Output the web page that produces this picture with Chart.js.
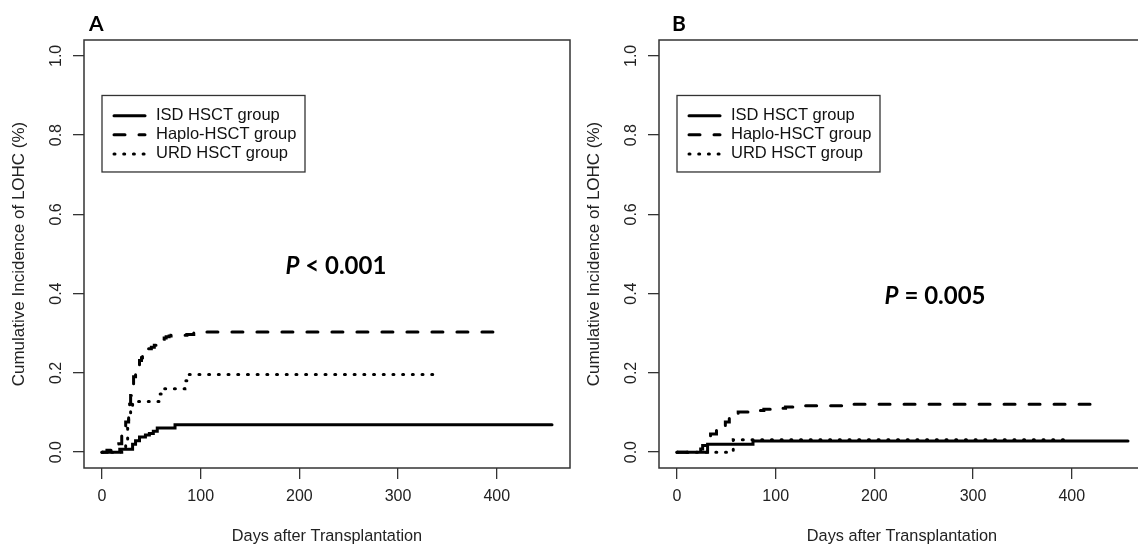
<!DOCTYPE html>
<html>
<head>
<meta charset="utf-8">
<script src="https://cdn.jsdelivr.net/npm/chart.js"></script>
<style>
  html, body { margin: 0; padding: 0; background: #fff; overflow: hidden; }
  body { width: 1138px; height: 545px; position: relative; }
  canvas { position: absolute; top: 0; }
  #chartA { left: 0; }
  #chartB { left: 575px; }
</style>
</head>
<body>
<canvas id="chartA" width="600" height="545"></canvas>
<canvas id="chartB" width="600" height="545"></canvas>
<script>
// axis ticks
const xTicks = [0, 100, 200, 300, 400];
const yTicks = [0, 0.2, 0.4, 0.6, 0.8, 1.0];
const yTickLabels = ['0.0', '0.2', '0.4', '0.6', '0.8', '1.0'];
const groups = ['ISD HSCT group', 'Haplo-HSCT group', 'URD HSCT group'];

// panel A
const isdDaysA = [0, 18, 31, 34, 38, 44, 48, 52, 56, 74, 456];
const isdValsA = [0, 0.007, 0.02, 0.029, 0.038, 0.043, 0.047, 0.053, 0.061, 0.069, 0.069];
const haploDaysA = [0, 5, 12, 17, 20, 23, 24, 27, 28, 29, 31, 32, 34, 35, 37, 38, 40, 41, 43, 44, 47, 50, 53, 56, 59, 61, 63, 65, 68, 70, 86, 93, 100, 407];
const haploValsA = [0, 0.005, 0.01, 0.021, 0.042, 0.06, 0.076, 0.097, 0.121, 0.143, 0.167, 0.19, 0.198, 0.206, 0.218, 0.231, 0.238, 0.244, 0.25, 0.256, 0.261, 0.265, 0.27, 0.278, 0.282, 0.285, 0.288, 0.291, 0.293, 0.295, 0.297, 0.301, 0.303, 0.303];
const urdDaysA = [0, 20, 24, 26, 27, 29, 31, 58, 62, 84, 88, 336];
const urdValsA = [0, 0.01, 0.03, 0.06, 0.09, 0.112, 0.128, 0.147, 0.16, 0.18, 0.196, 0.196];

// panel B
const isdDaysB = [0, 31, 77, 457];
const isdValsB = [0, 0.02, 0.028, 0.028];
const haploDaysB = [0, 24, 26, 30, 34, 40, 45, 49, 53, 57, 62, 80, 88, 100, 110, 130, 175, 420];
const haploValsB = [0, 0.008, 0.017, 0.03, 0.046, 0.055, 0.066, 0.076, 0.086, 0.094, 0.101, 0.105, 0.108, 0.111, 0.114, 0.117, 0.121, 0.121];
const urdDaysB = [0, 57, 399];
const urdValsB = [0, 0.031, 0.031];

const FONT = '"Liberation Sans", Arial, sans-serif';
const dashes = [[], [11, 14], [1, 8.7]];

function pts(days, vals) {
  return days.map((d, i) => ({ x: d, y: vals[i] }));
}

// frame, legend, p-value and panel letter
const overlay = {
  id: 'overlay',
  afterDatasetsDraw(chart, args, o) {
    const { ctx, chartArea: a, scales: { x, y } } = chart;
    ctx.save();
    ctx.strokeStyle = '#333';
    ctx.lineWidth = 1.5;
    ctx.strokeRect(a.left, a.top, a.right - a.left, a.bottom - a.top);

    const lx = x.getPixelForValue(0), ly = y.getPixelForValue(0.9);
    ctx.lineWidth = 1.3;
    ctx.strokeRect(lx, ly, 203, 76.5);
    ctx.font = '16.5px ' + FONT;
    ctx.textBaseline = 'middle';
    ctx.textAlign = 'left';
    chart.data.datasets.forEach((ds, i) => {
      const ry = ly + 20.2 + i * 19.1;
      ctx.strokeStyle = '#000';
      ctx.lineWidth = 3;
      ctx.lineCap = 'round';
      ctx.setLineDash(ds.borderDash);
      ctx.beginPath();
      ctx.moveTo(lx + 12, ry);
      ctx.lineTo(lx + 43, ry);
      ctx.stroke();
      ctx.setLineDash([]);
      ctx.fillStyle = '#111';
      ctx.fillText(ds.label, lx + 54, ry);
    });

    // p-value
    const px = x.getPixelForValue(o.pAt[0]), py = y.getPixelForValue(o.pAt[1]);
    const f1 = 'italic bold 24px Lato, sans-serif', f2 = 'bold 24px Lato, sans-serif';
    ctx.font = f1; const w1 = ctx.measureText('P').width;
    ctx.font = f2; const w2 = ctx.measureText(o.pText).width;
    let sx = px - (w1 + w2) / 2;
    ctx.fillStyle = '#000';
    ctx.font = f1; ctx.fillText('P', sx, py);
    ctx.font = f2; ctx.fillText(o.pText, sx + w1, py);

    // panel letter
    ctx.font = 'bold 21px Lato, sans-serif';
    ctx.fillText(o.letter, o.letterAt[0], o.letterAt[1]);
    ctx.restore();
  }
};

function makeChart(id, series, letter, letterAt, pText, pAt) {
  new Chart(document.getElementById(id), {
    type: 'line',
    data: {
      datasets: series.map((s, i) => ({
        label: groups[i],
        data: pts(s[0], s[1]),
        stepped: true,
        borderColor: '#000',
        borderWidth: 3,
        borderDash: dashes[i],
        borderCapStyle: 'round',
        pointRadius: 0,
        fill: false
      }))
    },
    options: {
      responsive: false,
      animation: false,
      layout: { padding: { top: 40, right: 30, left: 0, bottom: 0 } },
      plugins: {
        legend: { display: false },
        tooltip: { enabled: false },
        overlay: { letter, letterAt, pText, pAt }
      },
      scales: {
        x: {
          type: 'linear',
          min: -18.24,
          max: 474.24,
          afterBuildTicks: s => { s.ticks = xTicks.map(v => ({ value: v })); },
          afterFit: s => { s.height = 77; },
          border: { display: false },
          grid: { drawOnChartArea: false, drawTicks: true, tickLength: 11, color: '#333', lineWidth: 1.3 },
          ticks: { font: { family: FONT, size: 16 }, color: '#222', padding: 8, maxRotation: 0, autoSkip: false },
          title: { display: true, text: 'Days after Transplantation', color: '#222',
                   font: { family: FONT, size: 16.3, lineHeight: 1 }, padding: 0 }
        },
        y: {
          type: 'linear',
          min: -0.04,
          max: 1.04,
          afterBuildTicks: s => { s.ticks = yTicks.map(v => ({ value: v })); },
          afterFit: s => { s.width = 84; },
          border: { display: false },
          grid: { drawOnChartArea: false, drawTicks: true, tickLength: 11, color: '#333', lineWidth: 1.3 },
          ticks: {
            font: { family: FONT, size: 16 }, color: '#222',
            minRotation: 90, maxRotation: 90, crossAlign: 'center', padding: 5, autoSkip: false,
            callback: (v, i) => yTickLabels[i]
          },
          title: { display: true, text: 'Cumulative Incidence of LOHC (%)', color: '#222',
                   font: { family: FONT, size: 17 }, padding: 9 }
        }
      }
    },
    plugins: [overlay]
  });
}

makeChart('chartA',
  [[isdDaysA, isdValsA], [haploDaysA, haploValsA], [urdDaysA, urdValsA]],
  'A', [89, 24], ' < 0.001', [237, 0.47]);
makeChart('chartB',
  [[isdDaysB, isdValsB], [haploDaysB, haploValsB], [urdDaysB, urdValsB]],
  'B', [97, 24], ' = 0.005', [261.5, 0.393]);
</script>
</body>
</html>
